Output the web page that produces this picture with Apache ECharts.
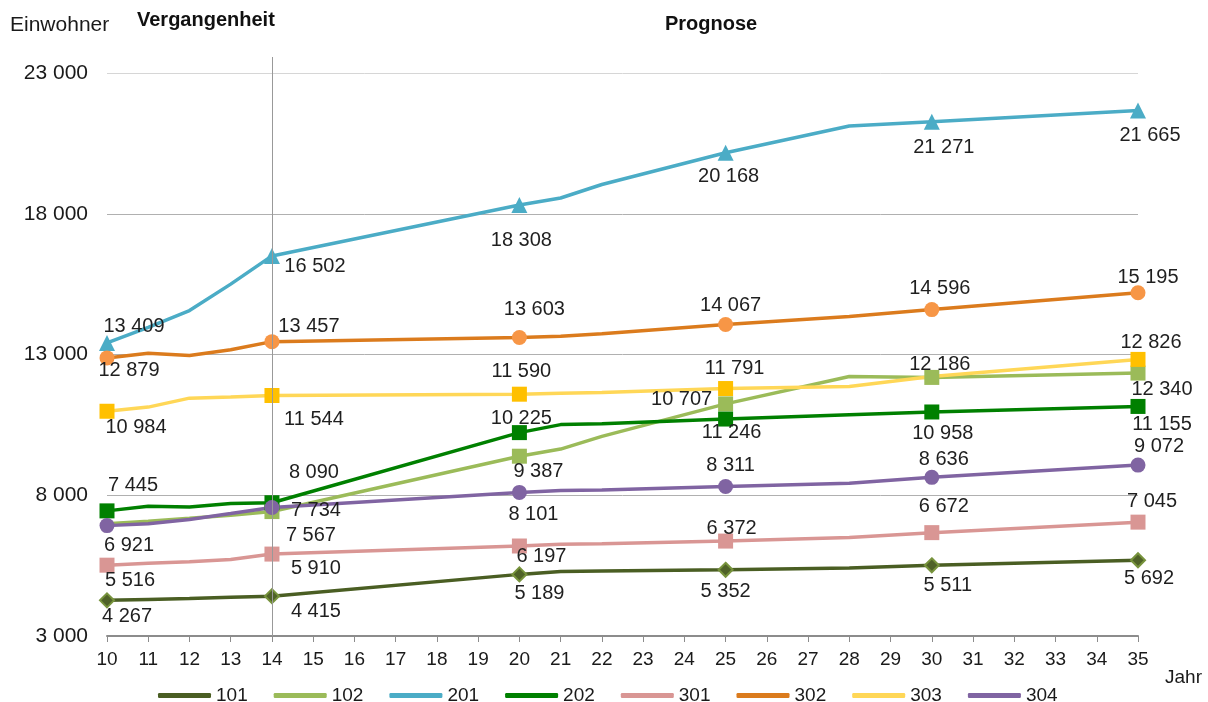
<!DOCTYPE html>
<html>
<head>
<meta charset="utf-8">
<script src="https://cdn.jsdelivr.net/npm/echarts@6/dist/echarts.min.js"></script>
<style>
  html, body { margin: 0; background: #fff; }
  #chart { width: 1208px; height: 702px; }
</style>
</head>
<body>
<div id="chart"></div>
<script>
// Jahre auf der Achse (20xx)
const years = ['10','11','12','13','14','15','16','17','18','19','20','21','22','23','24','25','26','27','28','29','30','31','32','33','34','35'];
// Jahre mit Werten, dazwischen wird verbunden
const dataYears = ['10','11','12','13','14','20','21','22','25','28','30','35'];

const s101 = [4267, 4300, 4330, 4380, 4415, 5189, 5290, 5310, 5352, 5420, 5511, 5692];
const s102 = [6990, 7080, 7180, 7290, 7420, 9387, 9640, 10090, 11246, 12220, 12186, 12340];
const s201 = [13409, 13960, 14560, 15500, 16502, 18308, 18560, 19040, 20168, 21120, 21271, 21665];
const s202 = [7445, 7610, 7585, 7705, 7734, 10225, 10510, 10540, 10707, 10860, 10958, 11155];
const s301 = [5516, 5580, 5635, 5720, 5910, 6197, 6260, 6280, 6372, 6500, 6672, 7045];
const s302 = [12879, 13046, 12965, 13167, 13457, 13603, 13650, 13740, 14067, 14350, 14596, 15195];
const s303 = [10984, 11131, 11450, 11486, 11544, 11590, 11620, 11650, 11791, 11865, 12220, 12826];
const s304 = [6921, 6990, 7138, 7350, 7567, 8101, 8170, 8190, 8311, 8430, 8636, 9072];

// Beschriftung, die vom Wert abweicht
const labelOverride102 = { '14': 8090 };

const yTicks = { min: 3000, max: 23000, step: 5000 };
const splitYear = '14';

// Markerpositionen + Versatz der Beschriftung (px)
const lbl = {
  '101': { '10': [20, 16], '14': [44, 15], '20': [20, 19], '25': [0, 22], '30': [16, 20], '35': [11, 18] },
  '102': { '14': [42, -39], '20': [19, 15], '25': [6, 29], '30': [8, -13], '35': [24, 16] },
  '201': { '10': [27, -17], '14': [43, 11], '20': [2, 35], '25': [3, 24], '30': [12, 26], '35': [12, 25] },
  '202': { '10': [26, -25], '14': [44, 8], '20': [2, -14], '25': [-44, -20], '30': [11, 22], '35': [24, 18] },
  '301': { '10': [23, 15], '14': [44, 14], '20': [22, 10], '25': [6, -13], '30': [12, -26], '35': [14, -21] },
  '302': { '10': [22, 13], '14': [37, -15], '20': [15, -28], '25': [5, -19], '30': [8, -21], '35': [10, -15] },
  '303': { '10': [29, 16], '14': [42, 24], '20': [2, -23], '25': [9, -20], '35': [13, -17] },
  '304': { '10': [22, 20], '14': [39, 28], '20': [14, 22], '25': [5, -21], '30': [12, -18], '35': [21, -19] }
};

const fmt = v => String(v).replace(/\B(?=(\d{3})+(?!\d))/g, ' ');
const FONT = 'Liberation Sans';

function makeSeries(name, values, lineColor, sym, overrides) {
  const data = years.map(y => {
    const i = dataYears.indexOf(y);
    if (i < 0) return null;
    const off = lbl[name][y];
    if (!off) return { value: values[i], symbol: 'none' };
    const shown = overrides && overrides[y] != null ? overrides[y] : values[i];
    return {
      value: values[i],
      label: { show: true, offset: off, formatter: fmt(shown) }
    };
  });
  return {
    name: name,
    type: 'line',
    z: 3,
    data: data,
    connectNulls: true,
    symbol: sym.shape,
    symbolSize: sym.size,
    showAllSymbol: true,
    itemStyle: { color: sym.color, borderColor: sym.border || sym.color, borderWidth: sym.border ? 2 : 0 },
    lineStyle: { color: lineColor, width: 3.5 },
    label: {
      show: false,
      position: 'inside',
      fontFamily: FONT,
      fontSize: 20,
      color: '#1f1f1f',
      align: 'center',
      verticalAlign: 'middle'
    },
    emphasis: { disabled: true }
  };
}

const series = [
  makeSeries('101', s101, '#4a5e23', { shape: 'diamond', size: 14, color: '#4f6228', border: '#77933c' }),
  makeSeries('102', s102, '#9bbb59', { shape: 'rect', size: 15, color: '#9bbb59' }, labelOverride102),
  makeSeries('201', s201, '#4bacc6', { shape: 'triangle', size: 16, color: '#4bacc6' }),
  makeSeries('202', s202, '#008000', { shape: 'rect', size: 15, color: '#008000' }),
  makeSeries('301', s301, '#d99694', { shape: 'rect', size: 15, color: '#d99694' }),
  makeSeries('302', s302, '#db7b1d', { shape: 'circle', size: 15, color: '#f79646' }),
  makeSeries('303', s303, '#ffd757', { shape: 'rect', size: 15, color: '#ffc000' }),
  makeSeries('304', s304, '#8064a2', { shape: 'circle', size: 15, color: '#8064a2' })
];

// Trennlinie Vergangenheit / Prognose (eigenes Raster, reicht über den Plot hinaus nach oben)
series.unshift({
  name: 'trenn',
  type: 'line',
  z: 1,
  xAxisIndex: 1,
  yAxisIndex: 1,
  data: [],
  silent: true,
  markLine: {
    silent: true,
    symbol: ['none', 'none'],
    label: { show: false },
    lineStyle: { color: '#999', width: 1, type: 'solid' },
    data: [{ xAxis: splitYear }]
  }
});

const legendColors = ['#4a5e23', '#9bbb59', '#4bacc6', '#008000', '#d99694', '#db7b1d', '#ffd757', '#8064a2'];
const legendNames = ['101', '102', '201', '202', '301', '302', '303', '304'];

const myChart = echarts.init(document.getElementById('chart'));
myChart.setOption({
  animation: false,
  textStyle: { fontFamily: FONT },
  title: [
    { text: 'Einwohner', left: 10, top: 15, padding: 0, textStyle: { fontFamily: FONT, fontSize: 21, fontWeight: 'normal', color: '#1a1a1a' } },
    { text: 'Vergangenheit', left: 137, top: 10, padding: 0, textStyle: { fontFamily: FONT, fontSize: 20, fontWeight: 'bold', color: '#111' } },
    { text: 'Prognose', left: 665, top: 14, padding: 0, textStyle: { fontFamily: FONT, fontSize: 20, fontWeight: 'bold', color: '#111' } },
    { text: 'Jahr', left: 1165, top: 668, padding: 0, textStyle: { fontFamily: FONT, fontSize: 19, fontWeight: 'normal', color: '#1a1a1a' } }
  ],
  legend: {
    left: 153,
    top: 681,
    icon: 'roundRect',
    itemWidth: 53,
    itemHeight: 5,
    itemGap: 26,
    itemStyle: { borderWidth: 0 },
    textStyle: { fontFamily: FONT, fontSize: 19, color: '#1a1a1a' },
    data: legendNames.map((n, i) => ({ name: n, itemStyle: { color: legendColors[i], borderWidth: 0 } }))
  },
  grid: [
    { left: 107, right: 70, top: 73, bottom: 66, containLabel: false, outerBoundsMode: 'none' },
    { left: 107, right: 70, top: 57, bottom: 66, containLabel: false, outerBoundsMode: 'none' }
  ],
  xAxis: [{
    type: 'category',
    boundaryGap: false,
    data: years,
    axisLine: { lineStyle: { color: '#8c8c8c', width: 2 } },
    axisTick: { show: true, interval: 0, length: 6, lineStyle: { color: '#8c8c8c', width: 1 } },
    axisLabel: { interval: 0, margin: 14, fontFamily: FONT, fontSize: 19, color: '#1a1a1a' },
    splitLine: { show: false }
  }, {
    type: 'category',
    gridIndex: 1,
    boundaryGap: false,
    data: years,
    show: false
  }],
  yAxis: [{
    type: 'value',
    min: yTicks.min,
    max: yTicks.max,
    interval: yTicks.step,
    axisLine: { show: false },
    axisTick: { show: false },
    axisLabel: { margin: 19, fontFamily: FONT, fontSize: 21, color: '#1a1a1a', formatter: v => fmt(v) },
    splitLine: { show: true, lineStyle: { color: ['#b0b0b0', '#b0b0b0', '#b0b0b0', '#b0b0b0', '#d6d6d6'], width: 1 } }
  }, {
    type: 'value',
    gridIndex: 1,
    min: 0,
    max: 1,
    show: false
  }],
  series: series
});
</script>
</body>
</html>
